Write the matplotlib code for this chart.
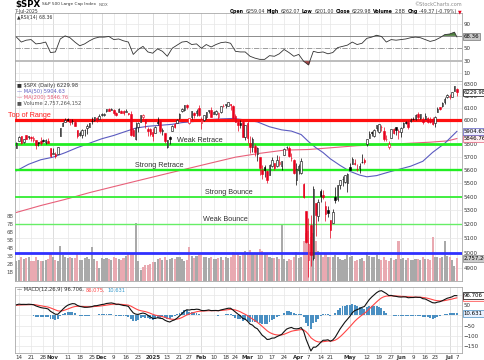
import numpy as np
import pandas as pd
import matplotlib
matplotlib.use("Agg")
import matplotlib.pyplot as plt
from matplotlib.ticker import NullLocator, NullFormatter

W, H = 485, 360

# trading calendar, 11-Oct-2024 .. 7-Jul-2025
holidays = ["2024-11-28", "2024-12-25", "2025-01-01", "2025-01-09", "2025-01-20",
            "2025-02-17", "2025-04-18", "2025-05-26", "2025-06-19", "2025-07-04"]
dates = pd.bdate_range("2024-10-11", "2025-07-07")
dates = dates[~dates.isin(pd.to_datetime(holidays))]
x = np.arange(len(dates))

opens = [5775, 5829, 5866, 5817, 5875, 5860, 5857, 5833, 5834, 5817,
         5826, 5833, 5820, 5824, 5775, 5723, 5725, 5722, 5864, 5947,
         5977, 6008, 6003, 5986, 5985, 5912, 5874, 5874, 5917, 5931,
         5944, 5992, 6000, 6014, 6003, 6041, 6042, 6069, 6089, 6082,
         6083, 6057, 6060, 6074, 6068, 6063, 6052, 6047, 5912, 5842,
         5940, 5984, 6024, 6006, 5921, 5920, 5903, 5892, 5982, 5994,
         5910, 5891, 5782, 5859, 5905, 5967, 5969, 6014, 6069, 6076,
         6121, 5970, 6026, 6058, 6051, 6096, 5969, 5998, 6021, 6072,
         6083, 6046, 6050, 6025, 6060, 6115, 6121, 6117, 6134, 6115,
         6027, 5983, 5971, 5981, 5856, 5969, 5811, 5782, 5787, 5726,
         5705, 5603, 5624, 5594, 5563, 5635, 5655, 5632, 5647, 5630,
         5719, 5776, 5772, 5696, 5679, 5527, 5598, 5580, 5492, 5292,
         4953, 5194, 4966, 5353, 5256, 5441, 5411, 5335, 5306, 5232,
         5207, 5395, 5381, 5489, 5529, 5508, 5499, 5626, 5645, 5655,
         5605, 5614, 5663, 5679, 5807, 5854, 5896, 5869, 5929, 5902,
         5944, 5910, 5842, 5781, 5854, 5926, 5939, 5903, 5896, 5938,
         5978, 5985, 5988, 6005, 6009, 6049, 6010, 6000, 6005, 6012,
         5987, 6005, 5969, 6062, 6104, 6112, 6151, 6193, 6187, 6191,
         6239, 6259.04]
highs = [5823, 5871, 5871, 5846, 5878, 5870, 5866, 5864, 5835, 5817,
         5862, 5842, 5847, 5850, 5775, 5772, 5741, 5783, 5936, 5983,
         6012, 6017, 6009, 6008, 5994, 5915, 5909, 5920, 5921, 5963,
         5973, 6021, 6025, 6020, 6044, 6053, 6052, 6089, 6100, 6100,
         6089, 6066, 6093, 6079, 6078, 6085, 6058, 6070, 5935, 5982,
         5979, 6041, 6049, 6007, 5941, 5929, 5935, 5949, 6022, 6000,
         5928, 5891, 5837, 5871, 5960, 5971, 6002, 6051, 6100, 6119,
         6128, 6017, 6070, 6063, 6087, 6121, 6022, 6042, 6062, 6084,
         6101, 6073, 6076, 6064, 6117, 6127, 6130, 6147, 6134, 6118,
         6044, 5992, 6001, 5994, 5959, 5986, 5866, 5860, 5802, 5783,
         5705, 5636, 5642, 5598, 5645, 5704, 5656, 5715, 5711, 5670,
         5775, 5787, 5784, 5732, 5685, 5651, 5650, 5695, 5500, 5292,
         5246, 5267, 5481, 5353, 5381, 5460, 5450, 5367, 5328, 5232,
         5309, 5469, 5489, 5528, 5554, 5563, 5581, 5658, 5700, 5683,
         5649, 5654, 5721, 5692, 5845, 5906, 5906, 5924, 5959, 5968,
         5953, 5939, 5878, 5829, 5924, 5931, 5944, 5922, 5937, 5981,
         5991, 5999, 6016, 6021, 6043, 6060, 6046, 6026, 6051, 6024,
         6019, 6018, 6028, 6101, 6108, 6146, 6187, 6215, 6211, 6228,
         6284, 6262.07]
lows = [5775, 5824, 5804, 5808, 5840, 5846, 5824, 5821, 5762, 5784,
        5799, 5823, 5806, 5811, 5703, 5723, 5697, 5722, 5864, 5947,
        5977, 5987, 5960, 5966, 5948, 5854, 5866, 5854, 5865, 5885,
        5944, 5963, 5992, 5984, 6003, 6033, 6034, 6061, 6075, 6079,
        6041, 6029, 6060, 6051, 6035, 6060, 6035, 5867, 5866, 5832,
        5902, 5982, 6007, 5932, 5869, 5868, 5829, 5888, 5960, 5890,
        5874, 5809, 5773, 5803, 5905, 5933, 5969, 6006, 6065, 6075,
        6088, 5962, 6007, 6012, 6031, 6030, 5923, 5990, 6007, 6052,
        6020, 6045, 6042, 6003, 6052, 6107, 6100, 6111, 6084, 6008,
        5978, 5908, 5929, 5858, 5837, 5810, 5732, 5743, 5711, 5667,
        5565, 5529, 5547, 5505, 5563, 5626, 5597, 5622, 5633, 5603,
        5719, 5764, 5699, 5670, 5572, 5488, 5571, 5571, 5390, 5070,
        4835, 4910, 4950, 5115, 5220, 5359, 5386, 5220, 5255, 5101,
        5207, 5356, 5371, 5456, 5478, 5500, 5433, 5597, 5645, 5640,
        5590, 5579, 5651, 5645, 5786, 5853, 5867, 5863, 5908, 5895,
        5909, 5831, 5830, 5767, 5854, 5885, 5878, 5843, 5861, 5929,
        5966, 5921, 5978, 5995, 6000, 6003, 6003, 5964, 6005, 5974,
        5970, 5953, 5944, 6060, 6080, 6108, 6133, 6178, 6173, 6191,
        6238, 6201.00]
closes = [5815.03, 5859.85, 5815.26, 5842.47, 5841.47, 5864.67, 5853.98, 5851.20, 5797.42, 5809.86,
          5808.12, 5823.52, 5832.92, 5813.67, 5705.45, 5728.80, 5712.69, 5782.76, 5929.04, 5973.10,
          5995.54, 6001.35, 5983.99, 5985.38, 5949.17, 5870.62, 5893.62, 5916.98, 5917.11, 5948.71,
          5969.34, 5987.37, 6021.63, 5998.74, 6032.38, 6047.15, 6049.88, 6086.49, 6075.11, 6090.27,
          6052.85, 6034.91, 6084.19, 6051.25, 6051.09, 6074.08, 6050.61, 5872.16, 5867.08, 5930.85,
          5974.07, 6040.04, 6037.59, 5970.84, 5906.94, 5881.63, 5868.55, 5942.47, 5975.38, 5909.03,
          5918.25, 5827.04, 5836.22, 5842.91, 5949.91, 5937.34, 5996.66, 6049.24, 6086.37, 6118.71,
          6101.24, 6012.28, 6067.70, 6039.31, 6071.17, 6040.53, 5994.57, 6037.88, 6061.48, 6083.57,
          6025.99, 6066.44, 6068.50, 6051.97, 6115.07, 6114.63, 6129.58, 6144.15, 6117.52, 6013.13,
          5983.25, 5955.25, 5956.06, 5861.57, 5954.50, 5849.72, 5778.15, 5842.63, 5738.52, 5770.20,
          5614.56, 5572.07, 5599.30, 5521.52, 5638.94, 5675.12, 5614.66, 5675.29, 5662.89, 5667.56,
          5767.57, 5776.65, 5712.20, 5693.31, 5580.94, 5611.85, 5633.07, 5670.97, 5396.52, 5074.08,
          5062.25, 4982.77, 5456.90, 5268.05, 5363.36, 5405.97, 5396.63, 5275.70, 5282.70, 5158.20,
          5287.76, 5375.86, 5484.77, 5525.21, 5528.75, 5560.83, 5569.06, 5604.14, 5686.67, 5650.38,
          5606.91, 5631.28, 5663.94, 5659.91, 5844.19, 5886.55, 5892.58, 5916.93, 5958.38, 5963.60,
          5940.46, 5844.61, 5842.01, 5802.82, 5921.54, 5888.55, 5912.17, 5911.69, 5935.94, 5970.37,
          5970.81, 5939.30, 6000.36, 6005.88, 6038.81, 6022.24, 6045.26, 5976.97, 6033.11, 5982.72,
          5980.87, 5967.84, 6025.17, 6092.18, 6092.16, 6141.02, 6173.07, 6204.95, 6198.24, 6227.42,
          6279.35, 6229.98]
prev_close0 = 5780.05

# volume, billions of shares
volume_b = [2.4, 2.6, 2.9, 2.7, 2.8, 3.0, 2.5, 2.5, 2.9, 2.6,
            2.5, 2.4, 2.6, 2.7, 3.5, 2.9, 2.6, 2.5, 4.3, 3.2,
            2.9, 2.8, 2.9, 2.8, 2.8, 3.3, 2.6, 2.6, 2.8, 2.9,
            2.7, 4.2, 2.7, 2.4, 1.6, 2.8, 2.7, 2.8, 2.7, 2.6,
            2.9, 2.8, 2.7, 2.6, 2.8, 3.1, 3.3, 3.4, 3.5, 7.2,
            2.4, 1.3, 1.7, 1.9, 2.0, 2.1, 2.3, 2.3, 2.7, 2.8,
            2.6, 3.0, 2.6, 2.7, 2.8, 2.7, 3.0, 2.9, 2.7, 2.5,
            2.6, 4.2, 3.1, 2.8, 3.1, 3.4, 3.2, 2.9, 3.0, 2.8,
            3.0, 2.7, 2.7, 2.8, 2.9, 2.6, 2.9, 2.8, 2.9, 3.6,
            3.3, 3.4, 3.1, 3.4, 3.7, 3.6, 3.8, 3.3, 3.3, 3.5,
            3.9, 3.7, 3.3, 3.3, 3.0, 2.8, 2.8, 2.9, 2.7, 7.0,
            2.7, 2.5, 2.7, 2.6, 2.9, 3.6, 2.8, 2.9, 5.0, 6.0,
            6.2, 5.5, 5.9, 4.9, 3.7, 3.3, 3.0, 3.3, 3.0, 2.9,
            2.9, 3.2, 2.9, 2.7, 2.6, 2.7, 3.2, 3.0, 3.1, 2.5,
            2.6, 2.7, 2.8, 2.5, 3.6, 3.1, 2.9, 2.9, 3.2, 2.7,
            2.6, 2.9, 2.6, 2.4, 2.8, 2.6, 2.7, 4.9, 2.7, 2.8,
            2.6, 2.8, 2.6, 2.6, 2.7, 2.7, 2.6, 2.9, 2.7, 2.7,
            2.6, 5.5, 3.0, 2.9, 2.8, 2.9, 4.9, 3.1, 3.0, 2.6,
            1.8, 2.76]

ma50_idx = [0, 5, 10, 15, 20, 25, 30, 35, 40, 45, 49, 54, 59, 64, 68, 74, 79, 84, 89, 94,
            99, 104, 109, 113, 117, 120, 123, 126, 129, 133, 137, 141, 144, 148, 153, 157,
            162, 167, 171, 176, 181]
ma50 = [5595, 5645, 5680, 5700, 5735, 5775, 5810, 5845, 5872, 5905, 5931, 5946, 5954, 5962,
        5976, 5987, 6000, 6006, 6010, 5998, 5982, 5942, 5917, 5907, 5879, 5823, 5775, 5736,
        5687, 5636, 5591, 5562, 5549, 5558, 5585, 5605, 5630, 5668, 5737, 5809, 5904.63]
ma200_idx = [0, 10, 20, 30, 40, 50, 60, 70, 80, 90, 100, 110, 120, 130, 140, 150, 160, 170, 177, 181]
ma200 = [5285, 5335, 5380, 5430, 5475, 5520, 5565, 5610, 5655, 5700, 5730, 5755, 5760, 5775,
         5790, 5800, 5808, 5818, 5828, 5846.76]

# RSI(14), read every second session
rsi = [68, 60, 63, 64, 57, 58, 60, 43, 44, 65,
       70, 67, 60, 54, 57, 62, 66, 68, 68, 69,
       64, 65, 62, 60, 40, 48, 53, 44, 42, 49,
       45, 37, 50, 55, 60, 61, 56, 57, 50, 56,
       52, 56, 59, 60, 58, 45, 44, 44, 37, 34,
       32, 32, 38, 37, 41, 48, 43, 37, 40, 29,
       23, 45, 43, 44, 41, 43, 51, 53, 55, 60,
       56, 58, 66, 68, 71, 69, 60, 64, 63, 64,
       65, 67, 68, 67, 64, 61, 63, 67, 72, 73,
       76, 68.36]
rsi_idx = list(range(0, 181, 2)) + [181]

macd = [52.0, 55.4, 54.0, 54.3, 53.9, 54.9, 54.1, 52.7, 46.7, 42.4,
        38.5, 36.3, 34.9, 31.8, 20.4, 13.1, 6.0, 5.9, 17.4, 29.8,
        41.0, 49.7, 54.6, 57.9, 56.9, 49.3, 44.6, 42.2, 39.8, 40.1,
        41.4, 43.4, 47.3, 48.0, 50.6, 53.3, 55.0, 58.6, 59.8, 61.3,
        58.8, 54.7, 54.9, 51.8, 48.8, 47.7, 44.4, 27.1, 12.8, 6.6,
        5.1, 9.1, 11.9, 8.7, 1.0, -7.0, -14.3, -14.0, -11.0, -13.7,
        -15.0, -23.1, -28.5, -31.8, -25.5, -21.3, -13.0, -2.2, 9.2, 20.7,
        28.0, 26.4, 29.3, 28.9, 30.8, 29.5, 24.5, 23.7, 24.7, 27.0,
        23.8, 24.3, 24.6, 23.2, 27.0, 29.5, 32.4, 35.4, 35.3, 26.4,
        16.8, 6.9, -0.9, -14.5, -17.6, -28.1, -41.8, -46.9, -58.7, -64.8,
        -81.1, -96.5, -105.3, -117.1, -115.7, -110.4, -109.8, -103.3, -98.0, -92.3,
        -78.8, -66.6, -61.5, -58.3, -64.0, -65.3, -63.9, -59.1, -76.5, -115.0,
        -144.8, -172.8, -154.9, -154.3, -144.4, -131.6, -120.8, -120.6, -118.5, -125.5,
        -119.2, -105.9, -85.6, -65.5, -48.7, -32.2, -18.3, -4.6, 13.1, 23.7,
        28.3, 33.5, 39.8, 43.9, 61.3, 77.7, 90.1, 100.7, 111.2, 118.6,
        121.1, 114.2, 107.2, 97.4, 98.0, 95.0, 93.3, 90.9, 89.9, 90.8,
        90.5, 86.6, 87.5, 87.7, 89.4, 88.4, 88.3, 82.0, 80.5, 74.4,
        68.7, 62.4, 61.3, 65.0, 67.2, 72.1, 78.0, 84.0, 87.2, 91.0,
        97.2, 96.706]
signal = [50.0, 51.1, 51.7, 52.2, 52.5, 53.0, 53.2, 53.1, 51.8, 49.9,
          47.6, 45.4, 43.3, 41.0, 36.9, 32.1, 26.9, 22.7, 21.6, 23.2,
          26.8, 31.4, 36.0, 40.4, 43.7, 44.8, 44.8, 44.3, 43.4, 42.7,
          42.5, 42.7, 43.6, 44.5, 45.7, 47.2, 48.8, 50.8, 52.6, 54.3,
          55.2, 55.1, 55.1, 54.4, 53.3, 52.2, 50.6, 45.9, 39.3, 32.8,
          27.2, 23.6, 21.3, 18.8, 15.2, 10.8, 5.8, 1.8, -0.8, -3.4,
          -5.7, -9.2, -13.1, -16.8, -18.6, -19.1, -17.9, -14.8, -10.0, -3.9,
          2.5, 7.3, 11.7, 15.1, 18.2, 20.5, 21.3, 21.8, 22.4, 23.3,
          23.4, 23.6, 23.8, 23.7, 24.4, 25.4, 26.8, 28.5, 29.9, 29.2,
          26.7, 22.7, 18.0, 11.5, 5.7, -1.1, -9.2, -16.8, -25.2, -33.1,
          -42.7, -53.5, -63.9, -74.5, -82.7, -88.3, -92.6, -94.7, -95.4, -94.8,
          -91.6, -86.6, -81.6, -76.9, -74.3, -72.5, -70.8, -68.5, -70.1, -79.1,
          -92.2, -108.3, -117.6, -124.9, -128.8, -129.4, -127.7, -126.3, -124.7, -124.9,
          -123.8, -120.2, -113.3, -103.7, -92.7, -80.6, -68.1, -55.4, -41.7, -28.6,
          -17.2, -7.1, 2.3, 10.6, 20.7, 32.1, 43.7, 55.1, 66.3, 76.8,
          85.7, 91.4, 94.6, 95.2, 95.8, 95.6, 95.1, 94.3, 93.4, 92.9,
          92.4, 91.2, 90.5, 89.9, 89.8, 89.5, 89.3, 87.8, 86.4, 84.0,
          80.9, 77.2, 74.0, 72.2, 71.2, 71.4, 72.7, 75.0, 77.4, 80.1,
          83.5, 86.075]

levels = [6000, 5800, 5600, 5400, 5200, 5000]
level_names = ["Top of Range", "Weak Retrace", "Strong Retrace", "Strong Bounce", "Weak Bounce", ""]
level_colors = ["#ff1010", "#22ee22", "#22ee22", "#33ee33", "#66ee66", "#3030ff"]
level_widths = [2.3, 2.0, 1.7, 1.3, 1.0, 2.0]
level_text_x = [-3.5, 66, 48.7, 77.5, 76.7, 0]

tick_dates = ["2024-10-14", "2024-10-21", "2024-10-28", "2024-11-01", "2024-11-11", "2024-11-18",
              "2024-11-25", "2024-12-02", "2024-12-09", "2024-12-16", "2024-12-23", "2025-01-02",
              "2025-01-13", "2025-01-21", "2025-01-27", "2025-02-03", "2025-02-10", "2025-02-18",
              "2025-02-24", "2025-03-03", "2025-03-10", "2025-03-17", "2025-03-24", "2025-04-01",
              "2025-04-07", "2025-04-14", "2025-04-21", "2025-05-01", "2025-05-12", "2025-05-19",
              "2025-05-27", "2025-06-02", "2025-06-09", "2025-06-16", "2025-06-23", "2025-07-01",
              "2025-07-07"]
tick_labels = ["14", "21", "28", "Nov", "11", "18", "25", "Dec", "9", "16", "23", "2025",
               "13", "21", "27", "Feb", "10", "18", "24", "Mar", "10", "17", "24", "Apr",
               "7", "14", "21", "May", "12", "19", "27", "Jun", "9", "16", "23", "Jul", "7"]
tick_pos = [dates.get_loc(pd.Timestamp(d)) for d in tick_dates]

# right-axis labels (those hidden under a value box are left out)
price_grid = list(range(4900, 6301, 100))
price_labels = [p for p in price_grid if p != 5900]
rsi_grid = [10, 30, 50, 70, 90]
rsi_labels = [10, 30, 50, 90]
macd_grid = [-150, -100, -50, 0, 50, 100]
macd_labels = [-150, -100, -50, 50]

GRID = "#e6e6e6"
SPINE = "#a8a8a8"
C_MA50 = "#5b5bc0"
C_MA200 = "#e8607a"
C_HIST = "#4a8fc2"


def fx(px):
    return px / W


def fy(py):
    return 1 - py / H


def rect(top, bottom, left=15, right=462):
    return [left / W, 1 - bottom / H, (right - left) / W, (bottom - top) / H]


fig = plt.figure(figsize=(W / 100, H / 100), dpi=100, facecolor="white")

ax_rsi = fig.add_axes(rect(13, 81))
ax_grid = fig.add_axes(rect(81, 280.5), zorder=0)
ax_vol = fig.add_axes(rect(81, 280.5), sharex=ax_grid, zorder=1)
ax_top = fig.add_axes(rect(81, 280.5), sharex=ax_grid, sharey=ax_grid, zorder=2)
ax_macd = fig.add_axes(rect(287, 353))

xlim = (-0.6, 183.1)
for a in (ax_rsi, ax_grid, ax_macd):
    a.set_xlim(*xlim)
    for pos, lab in zip(tick_pos, tick_labels):
        month = (not lab.isdigit()) or lab == "2025"
        a.axvline(pos, color="#cfcfcf" if month else GRID, lw=0.5, zorder=0)
    for s in a.spines.values():
        s.set_color(SPINE)
        s.set_linewidth(0.6)
    a.tick_params(length=0, labelsize=4, colors="#333333", pad=1.2)
    a.yaxis.tick_right()
    a.set_xticks(tick_pos)
    a.set_xticklabels(tick_labels)
    for t, lab in zip(a.get_xticklabels(), tick_labels):
        if (not lab.isdigit()) or lab == "2025":
            t.set_fontweight("bold")
ax_rsi.tick_params(labelbottom=False)

# ---- price panel
ax_grid.set_yscale("log")
ax_grid.set_ylim(4815, 6326)
for p in price_grid:
    ax_grid.axhline(p, color=GRID, lw=0.5, zorder=0)
ax_grid.set_yticks(price_labels)
ax_grid.set_yticklabels([str(p) for p in price_labels])
ax_grid.yaxis.set_minor_locator(NullLocator())
ax_grid.yaxis.set_minor_formatter(NullFormatter())

o = np.array(opens)
h = np.array(highs)
l = np.array(lows)
c = np.array(closes)
prev = np.concatenate([[prev_close0], c[:-1]])
up_day = c >= prev
edge = np.where(up_day, "#000000", "#e8001c")
face = np.where(c > o, "#ffffff", edge)

ax_vol.set_xlim(*xlim)
ax_vol.set_ylim(0, 199.5 / 8)
ax_vol.bar(x, volume_b, width=0.85, color=list(np.where(up_day, "#a9a9a9", "#e9a9b1")), linewidth=0)
ax_vol.patch.set_visible(False)
for s in ax_vol.spines.values():
    s.set_visible(False)
ax_vol.set_xticks([])
ax_vol.set_yticks(range(1, 9))
ax_vol.set_yticklabels([f"{v}B" for v in range(1, 9)])
ax_vol.tick_params(length=0, labelsize=3.8, colors="#555555", pad=1)

ax_top.set_axis_off()
ax_top.plot(ma200_idx, ma200, color=C_MA200, lw=0.8, zorder=2)
ax_top.plot(ma50_idx, ma50, color=C_MA50, lw=0.8, zorder=2)
for lv, name, col, lw, tx in zip(levels, level_names, level_colors, level_widths, level_text_x):
    ax_top.axhline(lv, color=col, lw=lw, zorder=2.5)
    if name:
        ax_top.text(tx, lv * 1.0012, name, fontsize=5.2, family="Liberation Sans",
                    color="#ff2020" if lv == 6000 else "#333333", va="bottom", ha="left",
                    clip_on=False, zorder=3)
ax_top.vlines(x, l, h, colors=list(edge), lw=0.5, zorder=4)
ax_top.bar(x, np.abs(c - o), bottom=np.minimum(o, c), width=0.62, color=list(face),
           edgecolor=list(edge), linewidth=0.4, zorder=5)


def right_box(a, y, text, fc, ec, tc="#000000"):
    a.text(1.004, y, text, transform=a.get_yaxis_transform(), ha="left", va="center",
           fontsize=3.9, color=tc, clip_on=False, zorder=10,
           bbox=dict(boxstyle="square,pad=0.18", fc=fc, ec=ec, lw=0.5))


right_box(ax_top, 5846.76, "5846.76", "#ffeef1", C_MA200)
right_box(ax_top, 5904.63, "5904.63", "#eeeeff", C_MA50)
right_box(ax_top, 6229.98, "6229.98", "#ffffff", "#000000")
right_box(ax_vol, 2.757, "2,757,264,152", "#cccccc", "#888888")

# ---- RSI panel
ax_rsi.set_ylim(-3, 107)
ax_rsi.set_yticks(rsi_labels)
for lv in (10, 90):
    ax_rsi.axhline(lv, color=GRID, lw=0.5, zorder=0)
ax_rsi.axhline(70, color="#8c8c8c", lw=0.7, zorder=1)
ax_rsi.axhline(30, color="#bdbdbd", lw=1.4, zorder=1)
ax_rsi.axhline(50, color="#8c8c8c", lw=0.6, ls="-.", zorder=1)
rsi_a = np.array(rsi, dtype=float)
ax_rsi.fill_between(rsi_idx, rsi_a, 70, where=rsi_a > 70, interpolate=True, color="#4f7f3f", lw=0, zorder=2)
ax_rsi.fill_between(rsi_idx, rsi_a, 30, where=rsi_a < 30, interpolate=True, color="#a04848", lw=0, zorder=2)
ax_rsi.plot(rsi_idx, rsi, color="#333333", lw=0.6, zorder=3)
right_box(ax_rsi, 68.36, "68.36", "#c8c8c8", "#777777")

# ---- MACD panel
ax_macd.set_ylim(-183, 139)
for lv in macd_grid:
    ax_macd.axhline(lv, color=GRID, lw=0.5, zorder=0)
ax_macd.set_yticks(macd_labels)
hist = np.array(macd) - np.array(signal)
ax_macd.bar(x, hist, width=0.8, color=C_HIST, linewidth=0, zorder=1)
ax_macd.plot(x, signal, color="#ff4444", lw=0.8, zorder=2)
ax_macd.plot(x, macd, color="#111111", lw=0.8, zorder=3)
right_box(ax_macd, 86.075, "86.075", "#ffeeee", "#ff4444")
right_box(ax_macd, 96.706, "96.706", "#ffffff", "#000000")
right_box(ax_macd, 10.631, "10.631", "#e8f1ff", C_HIST)


# ---- texts
def rich(x0, y, parts, gap=2.0, align="left"):
    r = fig.canvas.get_renderer()
    items = []
    for s, size, weight, color in parts:
        t = fig.text(0, fy(y), s, fontsize=size, fontweight=weight, color=color, va="center")
        items.append((t, t.get_window_extent(renderer=r).width))
    total = sum(w for _, w in items) + gap * (len(items) - 1)
    xp = x0 - total if align == "right" else x0
    for t, w in items:
        t.set_x(fx(xp))
        xp += w + gap


rich(15, 4.5, [("$SPX", 6.2, "bold", "#000000"),
               ("S&P 500 Large Cap Index", 3.1, "normal", "#333333"),
               ("INDX", 2.8, "normal", "#555555")], gap=2.2)
fig.text(fx(15), fy(11.5), "7-Jul-2025", fontsize=3.3, color="#333333", va="center")
fig.text(fx(462), fy(4), "\u00a9StockCharts.com", fontsize=3.6, color="#8a8a8a", va="center", ha="right")
hs = 3.42
rich(462, 11.5, [("Open", hs, "bold", "#000"), ("6259.04", hs, "normal", "#333"),
                 ("High", hs, "bold", "#000"), ("6262.07", hs, "normal", "#333"),
                 ("Low", hs, "bold", "#000"), ("6201.00", hs, "normal", "#333"),
                 ("Close", hs, "bold", "#000"), ("6229.98", hs, "normal", "#333"),
                 ("Volume", hs, "bold", "#000"), ("2.8B", hs, "normal", "#333"),
                 ("Chg", hs, "bold", "#000"), ("-49.37 (-0.79%)", hs, "normal", "#333"),
                 ("\u25bc", hs, "normal", "#e8001c")], gap=1.7, align="right")

fig.text(fx(17), fy(17.5), "\u25b2RSI(14) 68.36", fontsize=3.3, color="#333333", va="center")
fig.text(fx(17), fy(86), "\u25a0 $SPX (Daily) 6229.98", fontsize=3.7, color="#333333", va="center")
fig.text(fx(17), fy(91.5), "\u2014 MA(50) 5904.63", fontsize=3.7, color=C_MA50, va="center")
fig.text(fx(17), fy(97), "\u2014 MA(200) 5846.76", fontsize=3.7, color=C_MA200, va="center")
fig.text(fx(17), fy(102.5), "\u25a0 Volume 2,757,264,152", fontsize=3.7, color="#555555", va="center")
rich(17, 290, [("\u2014 MACD(12,26,9) 96.706,", 3.7, "normal", "#333333"),
               ("86.075,", 3.7, "normal", "#ff4444"),
               ("10.631", 3.7, "normal", "#3399cc")], gap=1.8)

fig.savefig("out.png", dpi=100, facecolor="white")
